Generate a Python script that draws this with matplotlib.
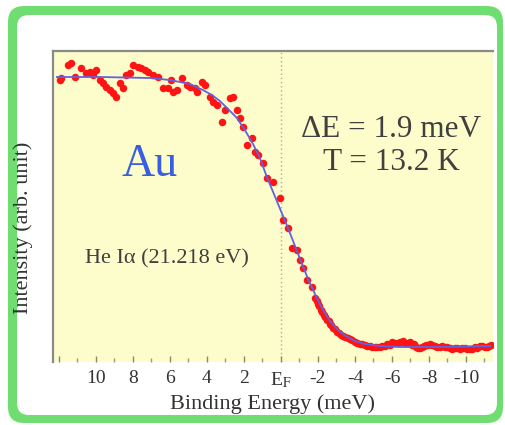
import matplotlib
matplotlib.use("Agg")
import matplotlib.pyplot as plt
from matplotlib.patches import FancyBboxPatch

# ---------------- data ----------------
# measured points: binding energy (meV) and intensity (arb. unit)
be_pts = [11.95, 11.89, 11.51, 11.35, 11.14, 10.81, 10.54, 10.32, 10.16, 10.00,
          9.78, 9.62, 9.46, 9.24, 9.08, 8.92, 8.70, 8.54, 8.38, 8.16,
          8.00, 7.73, 7.57, 7.35, 7.19, 6.92, 6.65, 6.38, 6.11, 5.95,
          5.84, 5.62, 5.35, 5.08, 4.92, 4.65, 4.54, 4.27, 4.11, 3.84,
          3.68, 3.46, 3.19, 3.03, 2.76, 2.59, 2.38, 2.22, 2.05, 1.84,
          1.57, 1.41, 1.24, 0.97, 0.76, 0.43, 0.05, -0.11, -0.38, -0.59,
          -0.86, -1.03, -1.19, -1.41, -1.68, -1.84,
          -2.00, -2.16, -2.32, -2.49, -2.65, -2.81, -3.03, -3.24, -3.46, -3.73,
          -4.00, -4.27, -4.54, -4.81, -5.08, -5.35, -5.62, -5.89, -6.16, -6.43,
          -6.70, -6.97, -7.19, -7.41, -7.62, -7.84, -8.05, -8.32, -8.59, -8.86,
          -9.14, -9.41, -9.68, -9.95, -10.22, -10.49, -10.76, -11.03, -11.24,
          -1.95, -2.08, -2.24, -2.40, -2.57, -2.73, -2.92, -3.13, -3.35, -3.60,
          -3.86, -4.13, -4.40, -4.67, -4.94, -5.21, -5.48, -5.75, -6.02, -6.30,
          -6.57, -6.84, -7.08, -7.30, -7.51, -7.73, -7.95, -8.19, -8.46, -8.73,
          -9.00, -9.27, -9.54, -9.81, -10.08, -10.35, -10.62, -10.89, -11.14, -11.35]
int_pts = [282, 284, 297, 299, 285, 294, 289, 290, 287, 292,
           282, 279, 275, 272, 269, 265, 279, 274, 287, 289,
           297, 295, 294, 292, 290, 287, 285, 274, 274, 282,
           270, 272, 284, 277, 275, 274, 270, 280, 277, 265,
           260, 257, 240, 252, 264, 265, 252, 244, 235, 217,
           224, 210, 207, 199, 184, 180, 164, 142, 134, 114,
           112, 102, 94, 82, 75, 64,
           58, 52, 47, 42, 38, 34, 30, 27, 25, 23,
           20, 18, 17, 16, 15, 15, 16, 17, 19, 20,
           19, 20, 18, 14, 15, 17, 18, 16, 15, 15,
           14, 14, 13, 14, 13, 15, 16, 15, 16,
           61, 56, 50, 45, 41, 37, 33, 29, 26, 24,
           22, 19, 18, 16, 15, 15, 16, 18, 20, 19,
           21, 19, 17, 15, 14, 16, 17, 17, 15, 16,
           15, 13, 14, 14, 13, 13, 14, 16, 15, 17]

# fitted curve
be_fit = [12.11, 9.78, 7.08, 6.00, 4.92, 4.22, 3.73, 3.30, 2.86, 2.38,
          1.95, 1.51, 1.14, 0.76, 0.38, 0.00, -0.38, -0.76, -1.14, -1.51,
          -1.89, -2.27, -2.65, -3.08, -3.51, -4.00, -4.54, -5.35, -6.43, -8.59,
          -11.30]
int_fit = [285, 285, 284, 282, 278, 272, 267, 261, 253, 244,
           232, 218, 204, 185, 168, 151, 134, 116, 98, 81,
           66, 52, 41, 32, 26, 21, 18, 16, 15, 15,
           16]

tick_vals = [12, 10, 8, 6, 4, 2, 0, -2, -4, -6, -8, -10]
tick_labels = ["", "10", "8", "6", "4", "2", r"E$_\mathrm{F}$",
               "-2", "-4", "-6", "-8", "-10"]
minor_vals = [11, 9, 7, 5, 3, 1, -1, -3, -5, -7, -9, -11]

# ---------------- style ----------------
plt.rcParams["font.family"] = ["Liberation Serif", "DejaVu Serif"]
plt.rcParams["mathtext.fontset"] = "stix"

W, H = 505, 425
fig = plt.figure(figsize=(W / 100, H / 100), dpi=100, facecolor="white")

# green rounded frame and white inner card (in inches)
green = FancyBboxPatch((0.08, 0.02), 4.95, 4.17,
                       boxstyle="round,pad=0,rounding_size=0.16",
                       transform=fig.dpi_scale_trans, facecolor="#70dd70",
                       edgecolor="none", zorder=0)
white = FancyBboxPatch((0.17, 0.10), 4.80, 4.00,
                       boxstyle="round,pad=0,rounding_size=0.12",
                       transform=fig.dpi_scale_trans, facecolor="white",
                       edgecolor="none", zorder=1)
fig.patches.extend([green, white])

ax = fig.add_axes([53 / W, 1 - 362 / H, 440 / W, 311 / H])
ax.set_zorder(2)
ax.set_facecolor("#fdfccb")

ax.axvline(0, color="#b0b098", lw=1.0, ls=(0, (1, 2)), zorder=1)
ax.plot(be_pts, int_pts, "o", color="#ff1414", ms=5.4, mec="none", zorder=2)
ax.plot(be_fit, int_fit, "-", color="#6262e0", lw=1.3, zorder=3)

ax.set_xlim(12.32, -11.46)
ax.set_ylim(0, 311)

for s in ["bottom", "right"]:
    ax.spines[s].set_visible(False)
for s in ["left", "top"]:
    ax.spines[s].set_color("#8a8a8a")
    ax.spines[s].set_linewidth(1.6)

ax.set_xticks(tick_vals)
ax.set_xticklabels(tick_labels)
ax.set_xticks(minor_vals, minor=True)
ax.tick_params(axis="x", which="major", direction="in", length=4, width=1,
               color="#8a8a6a", labelsize=14, labelcolor="#333333", pad=6)
ax.tick_params(axis="x", which="minor", direction="in", length=3, width=1,
               color="#9a9a80")
ax.set_yticks([])

ax.set_xlabel("Binding Energy (meV)", fontsize=16, color="#333333", labelpad=3)
ax.set_ylabel("Intensity (arb. unit)", fontsize=16, color="#333333")
ax.yaxis.set_label_coords(-0.045, 0.43)

ax.text(0.22, 0.633, "Au", transform=ax.transAxes, ha="center", va="center",
        fontsize=33, color="#3a5ee0")
ax.text(0.26, 0.331, "He I\u03b1 (21.218 eV)", transform=ax.transAxes,
        ha="center", va="center", fontsize=16, color="#404040")
ax.text(0.768, 0.749, "\u0394E = 1.9 meV", transform=ax.transAxes,
        ha="center", va="center", fontsize=22.5, color="#404040")
ax.text(0.77, 0.643, "T = 13.2 K", transform=ax.transAxes,
        ha="center", va="center", fontsize=22.5, color="#404040")

fig.savefig("out.png", dpi=100, facecolor="white")
